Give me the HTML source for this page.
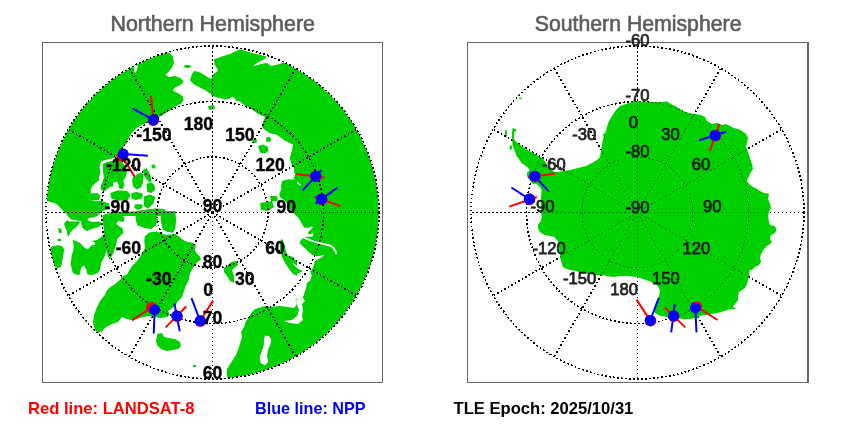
<!DOCTYPE html>
<html><head><meta charset="utf-8"><style>
html,body{margin:0;padding:0;background:#fff;}
svg{display:block;}
.lbl{will-change:transform;}
.t{font-family:"Liberation Sans",sans-serif;}
</style></head><body>
<svg width="850" height="425" viewBox="0 0 850 425">
<rect width="850" height="425" fill="#fff"/>
<defs>
<clipPath id="cl"><circle cx="212.5" cy="212.5" r="166.5"/></clipPath>
<clipPath id="cr"><circle cx="637.5" cy="212.5" r="166.5"/></clipPath>
</defs>
<g clip-path="url(#cl)">
<circle cx="212.5" cy="212.5" r="166.5" fill="#00d000"/>
<polygon points="30.0,420.0 30.0,200.0 47.0,201.0 55.0,203.3 57.1,204.4 59.2,206.5 62.4,210.2 65.6,212.8 67.7,216.0 70.9,219.2 76.2,220.3 81.5,221.3 86.8,220.3 88.9,218.1 93.1,217.6 97.4,216.0 99.5,213.9 100.5,210.7 101.6,206.5 101.0,202.2 98.4,202.8 95.3,202.2 92.1,200.7 89.4,200.1 90.0,198.5 93.1,197.0 97.4,195.4 96.3,193.8 91.5,193.8 90.5,190.6 92.1,186.4 95.3,183.2 99.5,180.0 98.7,178.0 100.4,173.0 99.5,166.4 101.2,161.5 106.1,159.8 112.7,158.2 117.7,156.5 118.0,153.5 120.6,150.0 125.0,145.0 129.0,138.0 131.0,133.5 137.0,127.6 144.0,124.0 153.5,119.4 155.0,120.0 159.2,117.2 164.5,114.0 170.8,109.8 177.2,105.6 181.4,103.4 183.6,100.3 182.5,96.0 177.2,92.8 173.0,90.7 175.1,87.6 181.4,84.4 183.6,81.2 180.4,78.0 175.1,75.9 168.7,77.0 165.5,74.8 168.7,71.7 171.9,67.4 174.0,63.2 173.0,56.8 168.7,52.6 168.0,30.0 300.0,30.0 305.0,70.0 297.0,68.0 294.0,66.7 290.7,63.4 285.7,61.8 279.0,64.2 271.0,66.0 268.0,63.5 266.0,63.0 261.0,64.0 256.0,65.5 253.0,65.8 258.0,62.5 263.0,60.0 267.0,57.0 265.0,56.0 252.0,53.0 240.0,49.2 235.1,51.4 229.4,54.2 222.4,56.3 216.7,58.4 213.9,59.1 214.6,64.8 218.1,69.7 216.7,71.8 212.5,74.7 211.8,78.9 208.2,77.5 204.0,74.7 198.4,71.8 194.1,71.1 192.0,74.0 189.9,80.3 194.1,84.5 199.8,87.4 205.4,90.2 210.4,93.7 213.9,96.6 219.5,98.0 225.2,99.4 229.4,98.7 232.3,96.6 234.4,98.0 236.5,100.8 240.0,101.5 244.0,105.0 250.0,108.0 258.0,114.0 265.0,117.0 263.0,122.0 262.0,127.0 265.0,130.0 270.6,133.4 276.2,134.5 279.5,136.8 284.0,140.1 288.5,142.4 293.0,144.6 291.8,151.3 289.6,158.0 291.8,164.7 294.1,168.5 294.1,172.1 295.2,174.9 294.1,177.3 292.7,178.4 294.8,179.1 296.2,181.2 298.3,182.6 301.2,184.8 300.5,185.5 297.6,184.1 294.1,181.9 290.6,179.8 287.1,179.5 284.2,180.5 282.8,182.6 281.4,185.5 281.5,188.5 279.2,194.2 280.6,197.9 283.9,199.8 285.8,201.7 288.0,205.0 290.0,209.0 292.5,212.4 298.1,217.4 300.6,221.5 302.2,224.8 303.0,225.0 303.5,227.4 307.6,228.0 311.8,226.2 313.0,227.4 310.6,229.7 308.8,231.5 307.6,233.8 310.0,234.4 313.0,233.2 313.5,235.0 311.8,236.8 308.8,236.8 305.3,236.8 303.0,237.4 299.4,242.6 301.8,245.6 305.3,248.5 308.2,251.5 310.6,253.8 313.5,255.6 317.0,256.2 320.6,255.8 324.1,255.0 321.8,257.4 318.2,259.1 314.7,261.5 312.7,268.2 310.2,271.5 311.8,275.6 310.2,280.5 306.9,283.0 306.1,288.0 304.4,292.9 302.8,297.8 297.8,299.5 295.4,298.7 296.2,302.0 297.0,304.0 294.0,308.0 288.0,307.0 280.0,306.0 271.0,307.0 265.0,306.0 260.0,307.5 255.0,309.0 252.0,312.0 249.0,317.0 246.0,321.0 244.0,327.0 241.0,332.0 242.0,337.0 239.0,347.0 236.0,355.0 232.0,361.0 227.0,369.0 226.5,374.0 228.0,380.0 228.0,420.0" fill="#ffffff"/>
<polygon points="118.0,70.0 124.2,71.7 128.5,69.5 130.6,67.4 132.7,67.0 134.8,68.5 133.8,71.7 135.9,72.7 138.0,66.0 125.0,60.0" fill="#ffffff"/>
<polygon points="296.0,300.0 303.0,298.0 305.0,301.0 302.0,304.0 303.0,310.0 302.0,316.0 303.0,320.0 298.0,324.0 290.0,323.0 284.0,321.0 292.0,320.0 297.0,316.0 299.0,310.0 297.0,305.0" fill="#ffffff"/>
<polygon points="264.9,335.5 269.2,336.2 271.3,339.8 270.2,345.1 268.1,349.3 267.0,355.7 268.1,362.0 264.9,365.2 260.7,363.1 259.6,357.8 261.7,351.4 263.9,345.1 263.9,339.8" fill="#ffffff"/>
<polyline points="303,237.4 313.5,241.5 323,243.8 330,245.6 333.5,248 335.3,251 336.5,253.8" fill="none" stroke="#fff" stroke-width="1.8"/>
<polygon points="160.0,232.4 164.8,234.8 170.0,234.5 175.2,233.7 179.3,236.8 184.5,241.0 192.8,243.0 195.9,245.1 194.9,250.3 196.9,253.4 200.0,256.5 201.0,259.6 198.0,261.7 194.9,264.8 191.8,270.0 189.7,274.1 188.7,280.3 185.5,286.5 183.5,292.7 181.4,298.0 178.0,301.0 175.0,306.0 171.0,309.0 168.0,311.0 170.0,315.0 167.0,317.0 161.0,318.0 155.0,317.0 149.0,316.0 143.0,317.0 137.0,319.0 131.0,320.0 127.0,319.0 122.0,317.0 118.0,322.0 112.0,324.0 106.0,327.0 102.0,331.0 98.0,333.0 95.0,330.0 93.0,323.0 94.0,315.0 97.0,307.0 100.0,301.0 104.8,295.0 106.5,290.9 109.8,287.6 114.7,284.3 120.5,279.4 122.1,277.7 124.6,276.1 127.5,273.8 129.4,269.9 132.0,266.0 135.9,262.2 139.8,257.0 142.3,253.1 144.9,247.9 144.3,240.2 144.9,236.0 149.3,232.4 155.9,231.6" fill="#00d000"/>
<g transform="translate(127,297) scale(0.2)">
<polygon points="150,185 175,180 185,200 210,205 240,210 265,225 270,245 255,260 230,265 200,270 180,265 165,255 150,240 145,220 150,200" fill="#00d000"/>
<polygon points="330,340 345,340 345,350 330,350" fill="#00d000"/>
</g>
<g transform="translate(212,212) scale(0.2)">
<polygon points="60,280 80,265 95,250 125,245 130,265 110,280 100,290 110,320 110,355 90,345 75,320 60,300" fill="#00d000"/>
<polygon points="345,135 355,140 365,170 370,200 385,230 405,260 425,280 425,320 405,310 385,285 365,255 350,225 340,190 340,160" fill="#00d000"/>
</g>
<polygon points="281.4,255.0 284.7,259.9 288.0,264.9 291.2,269.8 295.4,273.9 299.5,273.1 302.8,270.7 299.5,269.8 294.5,266.5 291.2,261.6 288.0,256.6 287.1,255.0 293.0,257.0 297.0,262.0 297.0,266.0" fill="#00d000"/>
<polygon points="136.6,211.0 146.7,209.8 156.1,208.4 157.0,210.0 157.6,220.3 155.5,225.5 151.4,229.0 144.4,228.0 137.3,225.3 135.5,219.0" fill="#00d000"/>
<polygon points="160.7,211.0 175.2,211.0 176.2,220.3 175.2,228.6 173.1,232.7 166.9,231.7 162.8,229.6 160.7,220.3" fill="#00d000"/>
<polygon points="64.1,224.0 66.5,220.2 69.8,221.6 74.5,221.6 78.2,221.2 80.1,222.1 78.2,224.9 75.4,227.8 72.6,230.1 70.2,232.9 68.8,236.2 67.4,235.3 66.9,231.0 65.1,227.3" fill="#00d000"/>
<polygon points="81.0,222.1 82.0,227.3 84.8,230.1 87.6,231.0 90.5,229.2 94.2,228.2 98.0,227.3 100.8,225.4 101.7,222.6 98.9,221.6 94.2,222.1 89.5,221.2 87.6,219.8 84.8,219.3 82.5,220.2" fill="#00d000"/>
<polygon points="50.5,247.4 52.6,246.3 57.9,245.3 62.1,246.3 64.2,249.5 63.2,255.8 62.1,262.2 61.1,266.4 57.9,268.6 54.7,266.4 51.5,258.0 50.5,251.6" fill="#00d000"/>
<polygon points="72.7,240.0 75.9,241.0 80.1,243.1 84.4,247.4 87.6,249.5 90.7,246.3 91.8,241.0 97.1,240.0 101.3,236.8 103.4,234.7 106.0,232.0 108.0,238.0 107.0,247.4 105.0,255.8 101.3,262.2 100.0,270.0 97.0,273.5 92.0,275.0 86.0,274.5 81.2,274.0 77.0,274.9 72.7,272.8 70.6,264.3 71.7,255.8 73.8,247.4" fill="#00d000"/>
<polygon points="102.4,215.6 106.0,213.8 111.9,213.5 120.4,214.5 124.6,217.7 123.6,221.9 118.3,220.9 116.2,224.1 119.3,226.2 122.5,228.3 123.6,232.5 120.4,235.7 117.2,238.9 116.2,245.3 113.0,253.7 109.8,260.1 107.7,255.8 105.6,247.4 104.5,236.8 103.4,226.2" fill="#00d000"/>
<polygon points="121.0,278.0 124.0,275.6 127.5,276.5 128.0,279.5 125.0,281.3 121.5,280.5" fill="#00d000"/>
<polygon points="79.5,277.0 81.0,268.0 84.0,265.5 86.5,270.0 88.0,277.0" fill="#ffffff"/>
<ellipse cx="92.5" cy="243.5" rx="2.6" ry="2" fill="#fff"/>
<ellipse cx="60.3" cy="231" rx="1.6" ry="2.2" fill="#00d000"/>
<ellipse cx="59.4" cy="240" rx="2" ry="1.3" fill="#00d000"/>
<ellipse cx="59" cy="229" rx="1" ry="1" fill="#00d000"/>
<polygon points="102.8,164.0 107.0,162.0 112.0,161.0 117.0,159.5 121.0,160.5 123.2,163.2 125.8,167.8 127.0,171.6 125.8,176.8 123.2,180.7 124.5,184.6 123.2,188.5 120.4,189.1 117.6,187.2 113.8,186.3 110.1,186.8 107.2,189.1 104.4,191.5 102.0,190.5 100.5,188.0 101.0,185.0 102.5,182.0 103.8,178.0 103.0,172.0" fill="#00d000"/>
<polygon points="132.3,177.9 136.7,174.4 141.1,172.6 143.8,175.3 142.9,182.3 141.1,187.6 136.7,189.4 133.2,186.7 132.3,182.3" fill="#00d000"/>
<polygon points="142.9,170.0 146.4,168.0 149.1,172.6 150.8,177.0 151.7,181.4 149.1,182.3 146.4,178.8 143.8,175.3" fill="#00d000"/>
<polygon points="146.4,184.1 150.8,182.3 154.4,185.0 155.3,189.4 151.7,192.9 147.3,192.0" fill="#00d000"/>
<polygon points="131.4,192.9 136.7,192.0 142.9,193.8 142.0,198.2 135.9,200.0 131.4,198.2" fill="#00d000"/>
<polygon points="143.8,196.4 150.0,194.4 155.3,197.1 153.5,203.3 148.2,208.8 143.8,206.1" fill="#00d000"/>
<polygon points="110.3,192.9 118.2,190.3 127.0,191.1 130.6,194.7 127.9,200.0 118.2,200.8 111.2,198.2" fill="#00d000"/>
<polygon points="90.0,193.8 97.1,192.9 100.6,195.6 98.8,200.0 91.8,200.8 90.0,200.0" fill="#00d000"/>
<polygon points="90.0,201.7 100.6,200.8 109.4,203.5 107.6,208.8 100.6,212.3 90.0,213.2" fill="#00d000"/>
<polygon points="134.5,204.5 140.0,204.0 143.2,205.3 141.9,208.5 137.4,209.8 134.5,208.0" fill="#00d000"/>
<polygon points="109.1,212.6 118.5,212.2 127.9,211.7 137.3,211.2 146.7,209.8 156.1,208.4 165.0,208.9 165.0,216.0 109.1,216.0" fill="#00d000"/>
<polygon points="151.0,166.0 154.0,164.0 156.0,167.0 153.0,169.0" fill="#00d000"/>
<polygon points="113.0,183.0 117.0,181.5 119.0,186.0 118.0,190.0 114.0,189.5" fill="#ffffff"/>
<g transform="translate(212,127) scale(0.2)">
<polygon points="230,95 255,88 280,100 282,120 265,132 240,128" fill="#00d000"/>
<polygon points="200,62 222,60 225,78 205,80" fill="#00d000"/>
<polygon points="270,52 292,50 295,72 272,75" fill="#00d000"/>
<polygon points="350,270 385,262 425,262 425,340 390,338 360,322 345,300" fill="#00d000"/>
<polygon points="240,380 300,370 310,400 280,420 245,415" fill="#00d000"/>
<polygon points="290,345 325,345 330,370 295,372" fill="#00d000"/>
</g>
<polygon points="208.0,106.0 214.0,105.0 215.0,109.0 209.0,110.0" fill="#00d000"/>
<ellipse cx="187.5" cy="66.5" rx="3.5" ry="1.4" fill="#00d000"/>
</g>
<g clip-path="url(#cr)">
<polygon points="514.4,132.6 513.8,138.5 515.6,141.5 518.5,143.8 522.0,146.2 525.6,148.5 529.1,150.9 532.6,152.6 536.2,155.0 539.7,156.8 543.2,158.5 546.0,163.0 550.0,169.0 554.0,172.0 558.0,172.0 564.0,171.0 570.0,170.0 578.0,168.0 586.0,166.0 592.0,163.0 597.0,160.0 600.0,157.0 601.0,151.0 602.0,145.0 603.0,139.0 604.0,135.0 606.0,131.0 607.0,127.0 609.0,121.0 612.0,116.0 616.0,110.0 620.0,106.0 626.0,104.0 632.0,102.0 637.0,101.0 645.0,102.0 653.0,102.0 661.0,102.0 667.0,101.6 671.0,104.0 677.0,107.0 683.0,111.0 689.0,113.0 695.0,114.0 701.0,115.0 705.0,117.0 707.0,121.0 712.0,124.0 717.0,123.0 722.0,125.0 726.0,124.0 730.0,126.0 734.0,128.0 738.0,129.0 742.0,131.0 746.0,134.0 748.0,138.0 747.0,142.0 746.0,147.0 748.0,152.0 750.0,158.0 752.0,164.0 753.0,169.0 751.0,172.0 749.0,176.0 747.0,181.0 749.0,184.0 753.0,187.0 757.0,189.0 760.0,191.0 764.0,193.0 768.0,193.6 769.0,195.0 768.0,199.0 770.0,204.0 771.0,208.0 769.0,212.0 768.0,216.0 769.0,222.0 770.0,225.0 775.0,226.0 776.4,230.0 775.0,233.0 771.0,235.0 770.0,239.0 772.0,242.0 770.0,244.0 767.0,246.0 764.0,249.0 761.0,254.0 760.0,258.0 761.0,262.0 759.0,265.0 755.0,267.0 752.0,270.0 750.0,270.0 749.0,275.0 748.0,280.0 747.0,284.0 745.0,288.0 742.0,290.0 739.0,292.0 738.0,296.0 738.0,300.0 736.0,303.0 734.0,305.0 733.0,307.0 736.0,308.0 735.0,309.0 731.0,309.0 728.0,310.0 724.0,311.0 720.0,312.4 716.0,313.0 712.0,314.0 708.0,314.4 704.0,315.0 700.0,316.0 698.2,317.6 691.2,318.8 685.3,319.4 679.4,318.2 673.0,318.5 668.8,317.6 665.3,316.5 660.6,315.9 655.0,313.0 654.0,310.0 655.0,305.0 657.0,300.0 659.0,296.0 660.0,291.0 659.0,288.0 657.0,285.0 653.0,283.0 649.0,281.0 643.0,279.0 637.0,277.0 629.0,276.0 621.0,276.0 613.0,277.0 607.0,276.0 601.0,275.0 595.0,275.0 588.0,274.0 582.0,273.0 576.0,271.0 570.0,270.0 564.0,268.0 562.0,265.0 561.0,260.0 560.0,255.0 559.0,247.0 558.0,241.0 556.5,240.0 554.7,237.0 550.6,235.9 545.3,235.3 541.8,233.5 539.4,231.2 537.6,227.6 538.2,224.0 540.6,221.8 541.8,217.0 541.2,213.5 540.6,201.0 541.2,196.0 541.5,190.0 540.3,187.6 537.9,185.3 535.6,183.5 533.2,184.1 530.9,181.8 529.1,179.4 527.4,177.0 526.8,172.4 529.7,170.6 527.9,167.6 525.0,165.3 521.5,163.0 519.7,160.0 516.8,156.2 514.4,150.3 512.6,145.6 512.0,139.7 512.0,132.6 512.6,128.0 516.8,129.4" fill="#00d000"/>
<ellipse cx="506" cy="133.5" rx="1" ry="4" fill="#00d000"/>
<ellipse cx="510.8" cy="147.5" rx="1.2" ry="2.6" fill="#00d000"/>
<ellipse cx="520.5" cy="98.3" rx="1.6" ry="0.8" fill="#00d000"/>
<ellipse cx="605.5" cy="135" rx="2.5" ry="2" fill="#00d000"/>
</g>
<circle cx="212.5" cy="212.5" r="55.5" fill="none" stroke="#000" stroke-width="1.6" stroke-dasharray="1.8 2.2" shape-rendering="crispEdges"/>
<circle cx="212.5" cy="212.5" r="111" fill="none" stroke="#000" stroke-width="1.6" stroke-dasharray="1.8 2.2" shape-rendering="crispEdges"/>
<circle cx="212.5" cy="212.5" r="166.5" fill="none" stroke="#000" stroke-width="1.6" stroke-dasharray="1.8 2.2" shape-rendering="crispEdges"/>
<line x1="212.5" y1="212.5" x2="212.50" y2="379.00" fill="none" stroke="#000" stroke-width="1.6" stroke-dasharray="1.8 2.2" shape-rendering="crispEdges"/>
<line x1="212.5" y1="212.5" x2="295.75" y2="356.69" fill="none" stroke="#000" stroke-width="1.6" stroke-dasharray="1.8 2.2" shape-rendering="crispEdges"/>
<line x1="212.5" y1="212.5" x2="356.69" y2="295.75" fill="none" stroke="#000" stroke-width="1.6" stroke-dasharray="1.8 2.2" shape-rendering="crispEdges"/>
<line x1="212.5" y1="212.5" x2="379.00" y2="212.50" fill="none" stroke="#000" stroke-width="1.6" stroke-dasharray="1.8 2.2" shape-rendering="crispEdges"/>
<line x1="212.5" y1="212.5" x2="356.69" y2="129.25" fill="none" stroke="#000" stroke-width="1.6" stroke-dasharray="1.8 2.2" shape-rendering="crispEdges"/>
<line x1="212.5" y1="212.5" x2="295.75" y2="68.31" fill="none" stroke="#000" stroke-width="1.6" stroke-dasharray="1.8 2.2" shape-rendering="crispEdges"/>
<line x1="212.5" y1="212.5" x2="212.50" y2="46.00" fill="none" stroke="#000" stroke-width="1.6" stroke-dasharray="1.8 2.2" shape-rendering="crispEdges"/>
<line x1="212.5" y1="212.5" x2="129.25" y2="68.31" fill="none" stroke="#000" stroke-width="1.6" stroke-dasharray="1.8 2.2" shape-rendering="crispEdges"/>
<line x1="212.5" y1="212.5" x2="68.31" y2="129.25" fill="none" stroke="#000" stroke-width="1.6" stroke-dasharray="1.8 2.2" shape-rendering="crispEdges"/>
<line x1="212.5" y1="212.5" x2="46.00" y2="212.50" fill="none" stroke="#000" stroke-width="1.6" stroke-dasharray="1.8 2.2" shape-rendering="crispEdges"/>
<line x1="212.5" y1="212.5" x2="68.31" y2="295.75" fill="none" stroke="#000" stroke-width="1.6" stroke-dasharray="1.8 2.2" shape-rendering="crispEdges"/>
<line x1="212.5" y1="212.5" x2="129.25" y2="356.69" fill="none" stroke="#000" stroke-width="1.6" stroke-dasharray="1.8 2.2" shape-rendering="crispEdges"/>
<defs><mask id="antm"><rect x="440" y="0" width="410" height="425" fill="#fff"/><polygon points="514.4,132.6 513.8,138.5 515.6,141.5 518.5,143.8 522.0,146.2 525.6,148.5 529.1,150.9 532.6,152.6 536.2,155.0 539.7,156.8 543.2,158.5 546.0,163.0 550.0,169.0 554.0,172.0 558.0,172.0 564.0,171.0 570.0,170.0 578.0,168.0 586.0,166.0 592.0,163.0 597.0,160.0 600.0,157.0 601.0,151.0 602.0,145.0 603.0,139.0 604.0,135.0 606.0,131.0 607.0,127.0 609.0,121.0 612.0,116.0 616.0,110.0 620.0,106.0 626.0,104.0 632.0,102.0 637.0,101.0 645.0,102.0 653.0,102.0 661.0,102.0 667.0,101.6 671.0,104.0 677.0,107.0 683.0,111.0 689.0,113.0 695.0,114.0 701.0,115.0 705.0,117.0 707.0,121.0 712.0,124.0 717.0,123.0 722.0,125.0 726.0,124.0 730.0,126.0 734.0,128.0 738.0,129.0 742.0,131.0 746.0,134.0 748.0,138.0 747.0,142.0 746.0,147.0 748.0,152.0 750.0,158.0 752.0,164.0 753.0,169.0 751.0,172.0 749.0,176.0 747.0,181.0 749.0,184.0 753.0,187.0 757.0,189.0 760.0,191.0 764.0,193.0 768.0,193.6 769.0,195.0 768.0,199.0 770.0,204.0 771.0,208.0 769.0,212.0 768.0,216.0 769.0,222.0 770.0,225.0 775.0,226.0 776.4,230.0 775.0,233.0 771.0,235.0 770.0,239.0 772.0,242.0 770.0,244.0 767.0,246.0 764.0,249.0 761.0,254.0 760.0,258.0 761.0,262.0 759.0,265.0 755.0,267.0 752.0,270.0 750.0,270.0 749.0,275.0 748.0,280.0 747.0,284.0 745.0,288.0 742.0,290.0 739.0,292.0 738.0,296.0 738.0,300.0 736.0,303.0 734.0,305.0 733.0,307.0 736.0,308.0 735.0,309.0 731.0,309.0 728.0,310.0 724.0,311.0 720.0,312.4 716.0,313.0 712.0,314.0 708.0,314.4 704.0,315.0 700.0,316.0 698.2,317.6 691.2,318.8 685.3,319.4 679.4,318.2 673.0,318.5 668.8,317.6 665.3,316.5 660.6,315.9 655.0,313.0 654.0,310.0 655.0,305.0 657.0,300.0 659.0,296.0 660.0,291.0 659.0,288.0 657.0,285.0 653.0,283.0 649.0,281.0 643.0,279.0 637.0,277.0 629.0,276.0 621.0,276.0 613.0,277.0 607.0,276.0 601.0,275.0 595.0,275.0 588.0,274.0 582.0,273.0 576.0,271.0 570.0,270.0 564.0,268.0 562.0,265.0 561.0,260.0 560.0,255.0 559.0,247.0 558.0,241.0 556.5,240.0 554.7,237.0 550.6,235.9 545.3,235.3 541.8,233.5 539.4,231.2 537.6,227.6 538.2,224.0 540.6,221.8 541.8,217.0 541.2,213.5 540.6,201.0 541.2,196.0 541.5,190.0 540.3,187.6 537.9,185.3 535.6,183.5 533.2,184.1 530.9,181.8 529.1,179.4 527.4,177.0 526.8,172.4 529.7,170.6 527.9,167.6 525.0,165.3 521.5,163.0 519.7,160.0 516.8,156.2 514.4,150.3 512.6,145.6 512.0,139.7 512.0,132.6 512.6,128.0 516.8,129.4" fill="#000"/></mask><clipPath id="antc"><polygon points="514.4,132.6 513.8,138.5 515.6,141.5 518.5,143.8 522.0,146.2 525.6,148.5 529.1,150.9 532.6,152.6 536.2,155.0 539.7,156.8 543.2,158.5 546.0,163.0 550.0,169.0 554.0,172.0 558.0,172.0 564.0,171.0 570.0,170.0 578.0,168.0 586.0,166.0 592.0,163.0 597.0,160.0 600.0,157.0 601.0,151.0 602.0,145.0 603.0,139.0 604.0,135.0 606.0,131.0 607.0,127.0 609.0,121.0 612.0,116.0 616.0,110.0 620.0,106.0 626.0,104.0 632.0,102.0 637.0,101.0 645.0,102.0 653.0,102.0 661.0,102.0 667.0,101.6 671.0,104.0 677.0,107.0 683.0,111.0 689.0,113.0 695.0,114.0 701.0,115.0 705.0,117.0 707.0,121.0 712.0,124.0 717.0,123.0 722.0,125.0 726.0,124.0 730.0,126.0 734.0,128.0 738.0,129.0 742.0,131.0 746.0,134.0 748.0,138.0 747.0,142.0 746.0,147.0 748.0,152.0 750.0,158.0 752.0,164.0 753.0,169.0 751.0,172.0 749.0,176.0 747.0,181.0 749.0,184.0 753.0,187.0 757.0,189.0 760.0,191.0 764.0,193.0 768.0,193.6 769.0,195.0 768.0,199.0 770.0,204.0 771.0,208.0 769.0,212.0 768.0,216.0 769.0,222.0 770.0,225.0 775.0,226.0 776.4,230.0 775.0,233.0 771.0,235.0 770.0,239.0 772.0,242.0 770.0,244.0 767.0,246.0 764.0,249.0 761.0,254.0 760.0,258.0 761.0,262.0 759.0,265.0 755.0,267.0 752.0,270.0 750.0,270.0 749.0,275.0 748.0,280.0 747.0,284.0 745.0,288.0 742.0,290.0 739.0,292.0 738.0,296.0 738.0,300.0 736.0,303.0 734.0,305.0 733.0,307.0 736.0,308.0 735.0,309.0 731.0,309.0 728.0,310.0 724.0,311.0 720.0,312.4 716.0,313.0 712.0,314.0 708.0,314.4 704.0,315.0 700.0,316.0 698.2,317.6 691.2,318.8 685.3,319.4 679.4,318.2 673.0,318.5 668.8,317.6 665.3,316.5 660.6,315.9 655.0,313.0 654.0,310.0 655.0,305.0 657.0,300.0 659.0,296.0 660.0,291.0 659.0,288.0 657.0,285.0 653.0,283.0 649.0,281.0 643.0,279.0 637.0,277.0 629.0,276.0 621.0,276.0 613.0,277.0 607.0,276.0 601.0,275.0 595.0,275.0 588.0,274.0 582.0,273.0 576.0,271.0 570.0,270.0 564.0,268.0 562.0,265.0 561.0,260.0 560.0,255.0 559.0,247.0 558.0,241.0 556.5,240.0 554.7,237.0 550.6,235.9 545.3,235.3 541.8,233.5 539.4,231.2 537.6,227.6 538.2,224.0 540.6,221.8 541.8,217.0 541.2,213.5 540.6,201.0 541.2,196.0 541.5,190.0 540.3,187.6 537.9,185.3 535.6,183.5 533.2,184.1 530.9,181.8 529.1,179.4 527.4,177.0 526.8,172.4 529.7,170.6 527.9,167.6 525.0,165.3 521.5,163.0 519.7,160.0 516.8,156.2 514.4,150.3 512.6,145.6 512.0,139.7 512.0,132.6 512.6,128.0 516.8,129.4" fill="#000"/></clipPath></defs><g mask="url(#antm)"><circle cx="637.5" cy="212.5" r="55.5" fill="none" stroke="#000" stroke-width="1.6" stroke-dasharray="1.8 2.2" shape-rendering="crispEdges"/>
<circle cx="637.5" cy="212.5" r="111" fill="none" stroke="#000" stroke-width="1.6" stroke-dasharray="1.8 2.2" shape-rendering="crispEdges"/>
<circle cx="637.5" cy="212.5" r="166.5" fill="none" stroke="#000" stroke-width="1.6" stroke-dasharray="1.8 2.2" shape-rendering="crispEdges"/>
<line x1="637.5" y1="212.5" x2="637.50" y2="379.00" fill="none" stroke="#000" stroke-width="1.6" stroke-dasharray="1.8 2.2" shape-rendering="crispEdges"/>
<line x1="637.5" y1="212.5" x2="720.75" y2="356.69" fill="none" stroke="#000" stroke-width="1.6" stroke-dasharray="1.8 2.2" shape-rendering="crispEdges"/>
<line x1="637.5" y1="212.5" x2="781.69" y2="295.75" fill="none" stroke="#000" stroke-width="1.6" stroke-dasharray="1.8 2.2" shape-rendering="crispEdges"/>
<line x1="637.5" y1="212.5" x2="804.00" y2="212.50" fill="none" stroke="#000" stroke-width="1.6" stroke-dasharray="1.8 2.2" shape-rendering="crispEdges"/>
<line x1="637.5" y1="212.5" x2="781.69" y2="129.25" fill="none" stroke="#000" stroke-width="1.6" stroke-dasharray="1.8 2.2" shape-rendering="crispEdges"/>
<line x1="637.5" y1="212.5" x2="720.75" y2="68.31" fill="none" stroke="#000" stroke-width="1.6" stroke-dasharray="1.8 2.2" shape-rendering="crispEdges"/>
<line x1="637.5" y1="212.5" x2="637.50" y2="46.00" fill="none" stroke="#000" stroke-width="1.6" stroke-dasharray="1.8 2.2" shape-rendering="crispEdges"/>
<line x1="637.5" y1="212.5" x2="554.25" y2="68.31" fill="none" stroke="#000" stroke-width="1.6" stroke-dasharray="1.8 2.2" shape-rendering="crispEdges"/>
<line x1="637.5" y1="212.5" x2="493.31" y2="129.25" fill="none" stroke="#000" stroke-width="1.6" stroke-dasharray="1.8 2.2" shape-rendering="crispEdges"/>
<line x1="637.5" y1="212.5" x2="471.00" y2="212.50" fill="none" stroke="#000" stroke-width="1.6" stroke-dasharray="1.8 2.2" shape-rendering="crispEdges"/>
<line x1="637.5" y1="212.5" x2="493.31" y2="295.75" fill="none" stroke="#000" stroke-width="1.6" stroke-dasharray="1.8 2.2" shape-rendering="crispEdges"/>
<line x1="637.5" y1="212.5" x2="554.25" y2="356.69" fill="none" stroke="#000" stroke-width="1.6" stroke-dasharray="1.8 2.2" shape-rendering="crispEdges"/></g><g clip-path="url(#antc)"><circle cx="637.5" cy="212.5" r="55.5" fill="none" stroke="#006000" stroke-width="0.8" stroke-dasharray="1.8 2.2" shape-rendering="crispEdges"/>
<circle cx="637.5" cy="212.5" r="111" fill="none" stroke="#006000" stroke-width="0.8" stroke-dasharray="1.8 2.2" shape-rendering="crispEdges"/>
<circle cx="637.5" cy="212.5" r="166.5" fill="none" stroke="#006000" stroke-width="0.8" stroke-dasharray="1.8 2.2" shape-rendering="crispEdges"/>
<line x1="637.5" y1="212.5" x2="637.50" y2="379.00" fill="none" stroke="#006000" stroke-width="0.8" stroke-dasharray="1.8 2.2" shape-rendering="crispEdges"/>
<line x1="637.5" y1="212.5" x2="720.75" y2="356.69" fill="none" stroke="#006000" stroke-width="0.8" stroke-dasharray="1.8 2.2" shape-rendering="crispEdges"/>
<line x1="637.5" y1="212.5" x2="781.69" y2="295.75" fill="none" stroke="#006000" stroke-width="0.8" stroke-dasharray="1.8 2.2" shape-rendering="crispEdges"/>
<line x1="637.5" y1="212.5" x2="804.00" y2="212.50" fill="none" stroke="#006000" stroke-width="0.8" stroke-dasharray="1.8 2.2" shape-rendering="crispEdges"/>
<line x1="637.5" y1="212.5" x2="781.69" y2="129.25" fill="none" stroke="#006000" stroke-width="0.8" stroke-dasharray="1.8 2.2" shape-rendering="crispEdges"/>
<line x1="637.5" y1="212.5" x2="720.75" y2="68.31" fill="none" stroke="#006000" stroke-width="0.8" stroke-dasharray="1.8 2.2" shape-rendering="crispEdges"/>
<line x1="637.5" y1="212.5" x2="637.50" y2="46.00" fill="none" stroke="#006000" stroke-width="0.8" stroke-dasharray="1.8 2.2" shape-rendering="crispEdges"/>
<line x1="637.5" y1="212.5" x2="554.25" y2="68.31" fill="none" stroke="#006000" stroke-width="0.8" stroke-dasharray="1.8 2.2" shape-rendering="crispEdges"/>
<line x1="637.5" y1="212.5" x2="493.31" y2="129.25" fill="none" stroke="#006000" stroke-width="0.8" stroke-dasharray="1.8 2.2" shape-rendering="crispEdges"/>
<line x1="637.5" y1="212.5" x2="471.00" y2="212.50" fill="none" stroke="#006000" stroke-width="0.8" stroke-dasharray="1.8 2.2" shape-rendering="crispEdges"/>
<line x1="637.5" y1="212.5" x2="493.31" y2="295.75" fill="none" stroke="#006000" stroke-width="0.8" stroke-dasharray="1.8 2.2" shape-rendering="crispEdges"/>
<line x1="637.5" y1="212.5" x2="554.25" y2="356.69" fill="none" stroke="#006000" stroke-width="0.8" stroke-dasharray="1.8 2.2" shape-rendering="crispEdges"/></g>
<line x1="153.4" y1="119.8" x2="151" y2="96" stroke="#ff0000" stroke-width="2"/>
<line x1="153.4" y1="119.8" x2="132.4" y2="108.3" stroke="#0000ff" stroke-width="2"/>
<circle cx="153.2" cy="120.6" r="5.5" fill="#ff0000"/>
<circle cx="153.4" cy="119.8" r="5.5" fill="#0000ff"/>
<line x1="122" y1="156.2" x2="134.7" y2="176.8" stroke="#ff0000" stroke-width="2"/>
<line x1="123.2" y1="154.1" x2="147.9" y2="155.7" stroke="#0000ff" stroke-width="2"/>
<circle cx="122" cy="156.2" r="5.5" fill="#ff0000"/>
<circle cx="123.2" cy="154.1" r="5.5" fill="#0000ff"/>
<line x1="296.2" y1="173.9" x2="324.4" y2="177.6" stroke="#ff0000" stroke-width="2"/>
<line x1="302.6" y1="190.4" x2="321.5" y2="170" stroke="#0000ff" stroke-width="2"/>
<circle cx="315.9" cy="176.5" r="5.8" fill="#cc0033"/>
<circle cx="315.6" cy="176.2" r="5.5" fill="#0000ff"/>
<line x1="314.4" y1="196.7" x2="340.3" y2="206.1" stroke="#ff0000" stroke-width="2"/>
<line x1="315.6" y1="203.5" x2="337.4" y2="187.6" stroke="#0000ff" stroke-width="2"/>
<circle cx="321.8" cy="199.3" r="5.8" fill="#cc0033"/>
<circle cx="321.5" cy="199" r="5.5" fill="#0000ff"/>
<line x1="151.5" y1="307.4" x2="132" y2="320.4" stroke="#ff0000" stroke-width="2"/>
<line x1="154.6" y1="309.8" x2="153.8" y2="333.5" stroke="#0000ff" stroke-width="2"/>
<circle cx="151.5" cy="307.4" r="5.5" fill="#ff0000"/>
<circle cx="154.6" cy="309.8" r="5.5" fill="#0000ff"/>
<line x1="165.6" y1="327.4" x2="186.2" y2="306.5" stroke="#ff0000" stroke-width="2"/>
<line x1="174.4" y1="303.5" x2="179.7" y2="331.2" stroke="#0000ff" stroke-width="2"/>
<circle cx="177.1" cy="316.2" r="5.8" fill="#cc0033"/>
<circle cx="176.8" cy="315.9" r="5.5" fill="#0000ff"/>
<line x1="201.5" y1="318.5" x2="213.2" y2="300.6" stroke="#ff0000" stroke-width="2"/>
<line x1="200.1" y1="320.8" x2="191.5" y2="298.2" stroke="#0000ff" stroke-width="2"/>
<circle cx="200.4" cy="321.1" r="5.8" fill="#cc0033"/>
<circle cx="200.1" cy="320.8" r="5.5" fill="#0000ff"/>
<line x1="719.4" y1="123.8" x2="709.8" y2="150.8" stroke="#ff0000" stroke-width="2"/>
<line x1="699.2" y1="140.2" x2="726.2" y2="131.7" stroke="#0000ff" stroke-width="2"/>
<circle cx="715.4" cy="135.7" r="5.8" fill="#cc0033"/>
<circle cx="715.1" cy="135.4" r="5.5" fill="#0000ff"/>
<line x1="528.3" y1="177.2" x2="555.1" y2="173.4" stroke="#ff0000" stroke-width="2"/>
<line x1="534.7" y1="176.2" x2="548.8" y2="191.4" stroke="#0000ff" stroke-width="2"/>
<circle cx="535" cy="176.5" r="5.8" fill="#cc0033"/>
<circle cx="534.7" cy="176.2" r="5.5" fill="#0000ff"/>
<line x1="509.2" y1="206.6" x2="536.8" y2="197" stroke="#ff0000" stroke-width="2"/>
<line x1="511.4" y1="187.5" x2="529.3" y2="199.1" stroke="#0000ff" stroke-width="2"/>
<circle cx="529.6" cy="199.4" r="5.8" fill="#cc0033"/>
<circle cx="529.3" cy="199.1" r="5.5" fill="#0000ff"/>
<line x1="650.2" y1="320.4" x2="636.5" y2="299.6" stroke="#ff0000" stroke-width="2"/>
<line x1="650.2" y1="320.4" x2="658.8" y2="298" stroke="#0000ff" stroke-width="2"/>
<circle cx="650.5" cy="320.7" r="5.8" fill="#cc0033"/>
<circle cx="650.2" cy="320.4" r="5.5" fill="#0000ff"/>
<line x1="664.7" y1="307.4" x2="685.3" y2="327.4" stroke="#ff0000" stroke-width="2"/>
<line x1="674.7" y1="304.1" x2="671.2" y2="332.4" stroke="#0000ff" stroke-width="2"/>
<circle cx="673.8" cy="316.2" r="5.8" fill="#cc0033"/>
<circle cx="673.5" cy="315.9" r="5.5" fill="#0000ff"/>
<line x1="696.5" y1="306.5" x2="717.6" y2="320" stroke="#ff0000" stroke-width="2"/>
<line x1="695.3" y1="307.9" x2="696.5" y2="332.4" stroke="#0000ff" stroke-width="2"/>
<circle cx="696.5" cy="306.5" r="5.5" fill="#ff0000"/>
<circle cx="695.3" cy="307.9" r="5.5" fill="#0000ff"/>
<rect x="42.5" y="42.5" width="340" height="340" fill="none" stroke="#666" stroke-width="1"/>
<rect x="467.5" y="42.5" width="340" height="340" fill="none" stroke="#666" stroke-width="1"/>
<line x1="808.5" y1="42" x2="808.5" y2="383" stroke="#666" stroke-width="1"/>
<g style="will-change:transform">
<text font-family="Liberation Sans" x="213.0" y="129.7" font-size="17.6" font-weight="bold" stroke="#000" stroke-width="0.35" fill="#000" text-anchor="end">180</text>
<text font-family="Liberation Sans" x="254.5" y="140.8" font-size="17.6" font-weight="bold" stroke="#000" stroke-width="0.35" fill="#000" text-anchor="end">150</text>
<text font-family="Liberation Sans" x="284.9" y="171.2" font-size="17.6" font-weight="bold" stroke="#000" stroke-width="0.35" fill="#000" text-anchor="end">120</text>
<text font-family="Liberation Sans" x="296.0" y="212.7" font-size="17.6" font-weight="bold" stroke="#000" stroke-width="0.35" fill="#000" text-anchor="end">90</text>
<text font-family="Liberation Sans" x="284.9" y="254.2" font-size="17.6" font-weight="bold" stroke="#000" stroke-width="0.35" fill="#000" text-anchor="end">60</text>
<text font-family="Liberation Sans" x="254.5" y="284.6" font-size="17.6" font-weight="bold" stroke="#000" stroke-width="0.35" fill="#000" text-anchor="end">30</text>
<text font-family="Liberation Sans" x="213.0" y="295.7" font-size="17.6" font-weight="bold" stroke="#000" stroke-width="0.35" fill="#000" text-anchor="end">0</text>
<text font-family="Liberation Sans" x="171.5" y="284.6" font-size="17.6" font-weight="bold" stroke="#000" stroke-width="0.35" fill="#000" text-anchor="end">-30</text>
<text font-family="Liberation Sans" x="141.1" y="254.2" font-size="17.6" font-weight="bold" stroke="#000" stroke-width="0.35" fill="#000" text-anchor="end">-60</text>
<text font-family="Liberation Sans" x="130.0" y="212.7" font-size="17.6" font-weight="bold" stroke="#000" stroke-width="0.35" fill="#000" text-anchor="end">-90</text>
<text font-family="Liberation Sans" x="141.1" y="171.2" font-size="17.6" font-weight="bold" stroke="#000" stroke-width="0.35" fill="#000" text-anchor="end">-120</text>
<text font-family="Liberation Sans" x="171.5" y="140.8" font-size="17.6" font-weight="bold" stroke="#000" stroke-width="0.35" fill="#000" text-anchor="end">-150</text>
<text font-family="Liberation Sans" x="212.5" y="212.3" font-size="17.6" font-weight="bold" stroke="#000" stroke-width="0.35" fill="#000" text-anchor="middle">90</text>
<text font-family="Liberation Sans" x="212.5" y="268.2" font-size="17.6" font-weight="bold" stroke="#000" stroke-width="0.35" fill="#000" text-anchor="middle">80</text>
<text font-family="Liberation Sans" x="212.5" y="323.5" font-size="17.6" font-weight="bold" stroke="#000" stroke-width="0.35" fill="#000" text-anchor="middle">70</text>
<text font-family="Liberation Sans" x="212.5" y="378.6" font-size="17.6" font-weight="bold" stroke="#000" stroke-width="0.35" fill="#000" text-anchor="middle">60</text>
<text font-family="Liberation Sans" x="638.0" y="128.3" font-size="16.6" stroke="#222" stroke-width="0.75" fill="#222" text-anchor="end">0</text>
<text font-family="Liberation Sans" x="679.8" y="139.5" font-size="16.6" stroke="#222" stroke-width="0.75" fill="#222" text-anchor="end">30</text>
<text font-family="Liberation Sans" x="710.3" y="170.1" font-size="16.6" stroke="#222" stroke-width="0.75" fill="#222" text-anchor="end">60</text>
<text font-family="Liberation Sans" x="721.5" y="211.8" font-size="16.6" stroke="#222" stroke-width="0.75" fill="#222" text-anchor="end">90</text>
<text font-family="Liberation Sans" x="710.3" y="253.5" font-size="16.6" stroke="#222" stroke-width="0.75" fill="#222" text-anchor="end">120</text>
<text font-family="Liberation Sans" x="679.8" y="284.1" font-size="16.6" stroke="#222" stroke-width="0.75" fill="#222" text-anchor="end">150</text>
<text font-family="Liberation Sans" x="638.0" y="295.3" font-size="16.6" stroke="#222" stroke-width="0.75" fill="#222" text-anchor="end">180</text>
<text font-family="Liberation Sans" x="596.2" y="284.1" font-size="16.6" stroke="#222" stroke-width="0.75" fill="#222" text-anchor="end">-150</text>
<text font-family="Liberation Sans" x="565.7" y="253.5" font-size="16.6" stroke="#222" stroke-width="0.75" fill="#222" text-anchor="end">-120</text>
<text font-family="Liberation Sans" x="554.5" y="211.8" font-size="16.6" stroke="#222" stroke-width="0.75" fill="#222" text-anchor="end">-90</text>
<text font-family="Liberation Sans" x="565.7" y="170.1" font-size="16.6" stroke="#222" stroke-width="0.75" fill="#222" text-anchor="end">-60</text>
<text font-family="Liberation Sans" x="596.2" y="139.5" font-size="16.6" stroke="#222" stroke-width="0.75" fill="#222" text-anchor="end">-30</text>
<text font-family="Liberation Sans" x="637.5" y="212.5" font-size="16.6" stroke="#222" stroke-width="0.75" fill="#222" text-anchor="middle">-90</text>
<text font-family="Liberation Sans" x="637.5" y="156.6" font-size="16.6" stroke="#222" stroke-width="0.75" fill="#222" text-anchor="middle">-80</text>
<text font-family="Liberation Sans" x="637.5" y="100.7" font-size="16.6" stroke="#222" stroke-width="0.75" fill="#222" text-anchor="middle">-70</text>
<text font-family="Liberation Sans" x="637.5" y="45.8" font-size="16.6" stroke="#222" stroke-width="0.75" fill="#222" text-anchor="middle">-60</text>
</g>
<g style="will-change:transform">
<text font-family="Liberation Sans" x="212.7" y="30.8" font-size="21.4" fill="#5c5c5c" stroke="#5c5c5c" stroke-width="0.6" text-anchor="middle">Northern Hemisphere</text>
<text font-family="Liberation Sans" x="638.1" y="30.8" font-size="21.25" fill="#5c5c5c" stroke="#5c5c5c" stroke-width="0.6" text-anchor="middle">Southern Hemisphere</text>
<text font-family="Liberation Sans" x="28" y="413.8" font-size="16.6" font-weight="bold" fill="#ff0000">Red line: LANDSAT-8</text>
<text font-family="Liberation Sans" x="255" y="413.8" font-size="16.2" font-weight="bold" fill="#0000ff">Blue line: NPP</text>
<text font-family="Liberation Sans" x="453.5" y="413.8" font-size="16.6" font-weight="bold" fill="#000">TLE Epoch: 2025/10/31</text>
</g>
</svg>
</body></html>
